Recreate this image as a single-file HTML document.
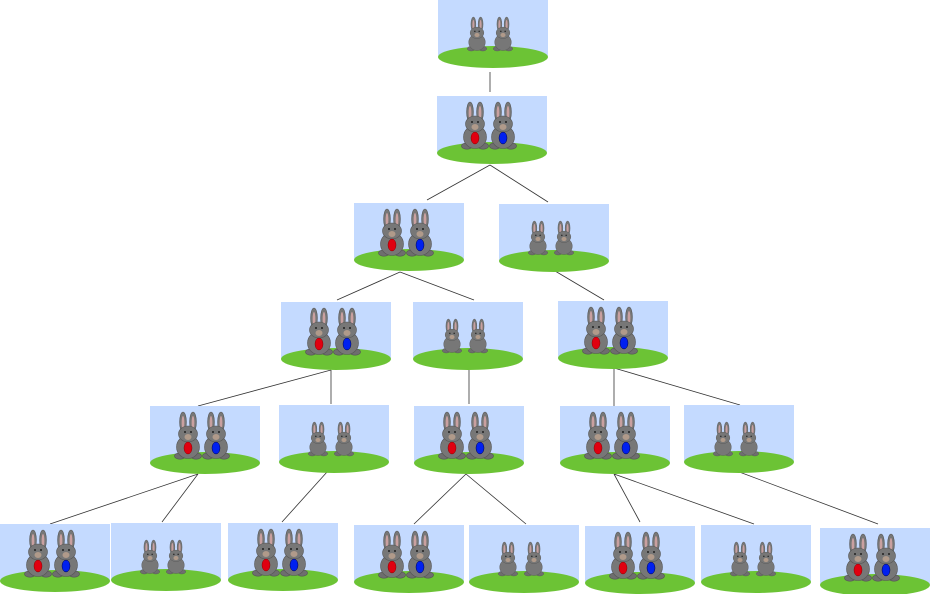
<!DOCTYPE html>
<html><head><meta charset="utf-8"><style>body{margin:0;background:#fff}svg{display:block}</style></head><body>
<svg width="930" height="594" viewBox="0 0 930 594" xmlns="http://www.w3.org/2000/svg">
<defs>
<g id="bun">
<ellipse cx="-5" cy="10" rx="3.4" ry="10" fill="#777" stroke="#555" stroke-width="0.6"/>
<ellipse cx="5" cy="10" rx="3.4" ry="10" fill="#777" stroke="#555" stroke-width="0.6"/>
<ellipse cx="-5" cy="11" rx="1.4" ry="7" fill="#c9a0a0"/>
<ellipse cx="5" cy="11" rx="1.4" ry="7" fill="#c9a0a0"/>
<ellipse cx="-8" cy="44" rx="5.5" ry="3.2" fill="#6e6e6e" stroke="#555" stroke-width="0.6"/>
<ellipse cx="8" cy="44" rx="5.5" ry="3.2" fill="#6e6e6e" stroke="#555" stroke-width="0.6"/>
<ellipse cx="0" cy="35" rx="11.5" ry="11.5" fill="#777" stroke="#555" stroke-width="0.6"/>
<ellipse cx="0" cy="22" rx="9.5" ry="8" fill="#777" stroke="#555" stroke-width="0.6"/>
<ellipse cx="0" cy="25" rx="3.5" ry="3" fill="#b09a8a"/>
<circle cx="-3" cy="20" r="1" fill="#222"/><circle cx="3" cy="20" r="1" fill="#222"/>
</g>
<g id="big">
<rect x="0" y="0" width="110" height="56" fill="#c4daff"/>
<ellipse cx="55" cy="57" rx="55" ry="11" fill="#6cc335"/>
<use href="#bun" transform="translate(38,6)"/>
<use href="#bun" transform="translate(66,6)"/>
<ellipse cx="38" cy="42" rx="4" ry="6" fill="#e00010" stroke="#800" stroke-width="0.5"/>
<ellipse cx="66" cy="42" rx="4" ry="6" fill="#0020f0" stroke="#004" stroke-width="0.5"/>
</g>
<g id="small">
<rect x="0" y="0" width="110" height="56" fill="#c4daff"/>
<ellipse cx="55" cy="57" rx="55" ry="11" fill="#6cc335"/>
<use href="#bun" transform="translate(39,17) scale(0.72)"/>
<use href="#bun" transform="translate(65,17) scale(0.72)"/>
</g>
</defs>
<g stroke="#333" stroke-width="0.8">
<line x1="490" y1="72" x2="490" y2="92"/>
<line x1="490" y1="165" x2="427" y2="200"/>
<line x1="490" y1="165" x2="548" y2="202"/>
<line x1="400" y1="272" x2="337" y2="300"/>
<line x1="400" y1="272" x2="474" y2="300"/>
<line x1="550" y1="268" x2="604" y2="300"/>
<line x1="331" y1="370" x2="198" y2="406"/>
<line x1="331" y1="370" x2="331" y2="404"/>
<line x1="469" y1="370" x2="469" y2="404"/>
<line x1="614" y1="368" x2="614" y2="406"/>
<line x1="614" y1="368" x2="740" y2="405"/>
<line x1="198" y1="474" x2="50" y2="524"/>
<line x1="198" y1="474" x2="162" y2="522"/>
<line x1="327" y1="472" x2="282" y2="522"/>
<line x1="466" y1="474" x2="414" y2="524"/>
<line x1="466" y1="474" x2="526" y2="524"/>
<line x1="614" y1="474" x2="640" y2="522"/>
<line x1="614" y1="474" x2="754" y2="524"/>
<line x1="734" y1="470" x2="878" y2="524"/>
</g>
<use href="#small" x="438" y="0"/>
<use href="#big" x="437" y="96"/>
<use href="#big" x="354" y="203"/>
<use href="#small" x="499" y="204"/>
<use href="#big" x="281" y="302"/>
<use href="#small" x="413" y="302"/>
<use href="#big" x="558" y="301"/>
<use href="#big" x="150" y="406"/>
<use href="#small" x="279" y="405"/>
<use href="#big" x="414" y="406"/>
<use href="#big" x="560" y="406"/>
<use href="#small" x="684" y="405"/>
<use href="#big" x="0" y="524"/>
<use href="#small" x="111" y="523"/>
<use href="#big" x="228" y="523"/>
<use href="#big" x="354" y="525"/>
<use href="#small" x="469" y="525"/>
<use href="#big" x="585" y="526"/>
<use href="#small" x="701" y="525"/>
<use href="#big" x="820" y="528"/>
</svg>
</body></html>
